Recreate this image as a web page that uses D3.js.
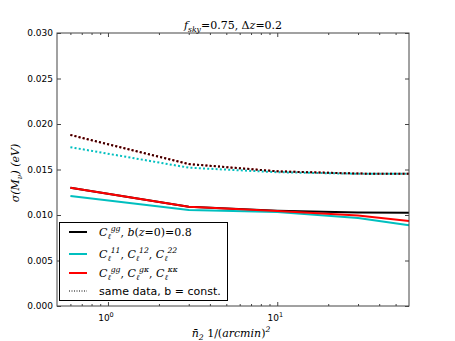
<!DOCTYPE html>
<html>
<head>
<meta charset="utf-8">
<script src="https://cdn.jsdelivr.net/npm/d3@7"></script>
<style>
  body { margin: 0; background: #fff; }
  svg { display: block; }
  .axis path { display: none; }
  .axis line { stroke: #444; }
  .axis text { font-family: "DejaVu Sans", sans-serif; font-size: 9px; fill: #000; }
  .math { font-family: "DejaVu Serif", "Liberation Serif", serif; }
</style>
</head>
<body>
<svg id="chart" width="455" height="341"></svg>
<script>
// number density of the second sample, 1/arcmin^2
let nBar = [0.6, 3, 10, 30, 60]

// sigma(M_nu) in eV
let ggBias = [0.0130, 0.0109, 0.01048, 0.01028, 0.01026]
let tomo = [0.0121, 0.01055, 0.01033, 0.00967, 0.00887]
let ggKappa = [0.0130, 0.0109, 0.01045, 0.00995, 0.00935]
let ggBiasConst = [0.0188, 0.0156, 0.0148, 0.01455, 0.01452]
let tomoConst = [0.01745, 0.0152, 0.0147, 0.01453, 0.01452]
let ggKappaConst = [0.0188, 0.0156, 0.0148, 0.01455, 0.01452]

let yTicks = [0, 0.005, 0.010, 0.015, 0.020, 0.025, 0.030]
let xMajor = [1, 10]
let xMinor = [0.6, 0.7, 0.8, 0.9, 2, 3, 4, 5, 6, 7, 8, 9, 20, 30, 40, 50]

let svg = d3.select('#chart')
let margin = {left: 57, right: 46, top: 33, bottom: 35}
let width = 455 - margin.left - margin.right
let height = 341 - margin.top - margin.bottom

let x = d3.scaleLog().domain([0.5, 60]).range([margin.left, margin.left + width])
let y = d3.scaleLinear().domain([0, 0.030]).range([margin.top + height, margin.top])

// mathtext-ish helper: pieces are [text, kind]
function mathText(sel, pieces, size) {
    let t = sel.append('text').attr('class', 'math').style('font-size', size + 'px')
    let shift = 0
    pieces.forEach(([s, kind]) => {
        let target = kind === 'sub' ? size * 0.3 : kind === 'sup' ? -size * 0.45 : 0
        let ts = t.append('tspan').text(s).attr('dy', target - shift)
        shift = target
        if (kind === 'i') ts.style('font-style', 'italic')
        if (kind === 'sub' || kind === 'sup') ts.style('font-size', (size * 0.7) + 'px').style('font-style', 'italic')
    })
    return t
}

// y axis, ticks inward on both sides
svg.append('g').attr('class', 'axis')
    .attr('transform', `translate(${margin.left},0)`)
    .call(d3.axisLeft(y).tickValues(yTicks).tickFormat(d3.format('.3f')).tickSizeInner(-4).tickPadding(4))
svg.append('g').attr('class', 'axis')
    .attr('transform', `translate(${margin.left + width},0)`)
    .call(d3.axisRight(y).tickValues(yTicks).tickFormat('').tickSizeInner(-4))

// x axis, log, major + minor inward on bottom and top
svg.append('g').attr('class', 'axis')
    .attr('transform', `translate(0,${margin.top + height})`)
    .call(d3.axisBottom(x).tickValues(xMajor).tickFormat('').tickSizeInner(-4).tickPadding(0))
svg.append('g').attr('class', 'axis')
    .attr('transform', `translate(0,${margin.top + height})`)
    .call(d3.axisBottom(x).tickValues(xMinor).tickFormat('').tickSizeInner(-2))
svg.append('g').attr('class', 'axis')
    .attr('transform', `translate(0,${margin.top})`)
    .call(d3.axisTop(x).tickValues(xMajor).tickFormat('').tickSizeInner(-4))
svg.append('g').attr('class', 'axis')
    .attr('transform', `translate(0,${margin.top})`)
    .call(d3.axisTop(x).tickValues(xMinor).tickFormat('').tickSizeInner(-2))

xMajor.forEach(v => {
    let t = svg.append('text')
        .attr('x', x(v) - 2).attr('y', margin.top + height + 15)
        .attr('text-anchor', 'middle')
        .style('font-family', '"DejaVu Sans", sans-serif').style('font-size', '9px')
    t.append('tspan').text('10')
    t.append('tspan').text(Math.round(Math.log10(v))).attr('dy', -4).style('font-size', '6.5px')
})

// lines
let line = vals => d3.line().x((d, i) => x(nBar[i])).y(d => y(d))(vals)
let plotArea = svg.append('g')

let series = [
    {vals: ggBias, color: '#000', dash: null, op: 1},
    {vals: tomo, color: '#00bfbf', dash: null, op: 1},
    {vals: ggKappa, color: '#ff0000', dash: null, op: 1},
    {vals: tomoConst, color: '#00bfbf', dash: '2,2.2', op: 1},
    {vals: ggKappaConst, color: '#ff0000', dash: '2,2.2', op: 1},
    {vals: ggBiasConst, color: '#000', dash: '2,2.2', op: 0.82},
]
series.forEach(s => {
    plotArea.append('path')
        .attr('d', line(s.vals))
        .attr('fill', 'none')
        .attr('stroke', s.color)
        .attr('stroke-width', 2)
        .attr('stroke-opacity', s.op)
        .attr('stroke-dasharray', s.dash)
})

// frame
svg.append('rect')
    .attr('x', margin.left).attr('y', margin.top)
    .attr('width', width).attr('height', height)
    .attr('fill', 'none').attr('stroke', '#444').attr('stroke-width', 1)

// title
mathText(svg, [['f', 'i'], ['sky', 'sub'], ['=0.75,  \u0394', ''], ['z', 'i'], ['=0.2', '']], 11)
    .attr('x', 233).attr('y', 29).attr('text-anchor', 'middle')

// y label
mathText(svg, [['\u03c3(', 'i'], ['M', 'i'], ['\u03bd', 'sub'], [')  (eV)', 'i']], 11)
    .attr('text-anchor', 'middle')
    .attr('transform', 'translate(19,173) rotate(-90)')

// x label
mathText(svg, [['n\u0304', 'i'], ['2', 'sub'], ['  1/(', ''], ['arcmin', 'i'], [')', ''], ['2', 'sup']], 11)
    .attr('x', 231).attr('y', 337).attr('text-anchor', 'middle')

// legend
let legend = svg.append('g')
legend.append('rect')
    .attr('x', 59.5).attr('y', 222.5).attr('width', 168).attr('height', 78)
    .attr('fill', '#fff').attr('stroke', '#000').attr('stroke-width', 1)

let legendItems = [
    {color: '#000', dash: null, w: 2, label: [['C', 'i'], ['\u2113', 'sub'], ['gg', 'sup'], [', ', ''], ['b', 'i'], ['(', ''], ['z', 'i'], ['=0)=0.8', '']]},
    {color: '#00bfbf', dash: null, w: 2, label: [['C', 'i'], ['\u2113', 'sub'], ['11', 'sup'], [', ', ''], ['C', 'i'], ['\u2113', 'sub'], ['12', 'sup'], [', ', ''], ['C', 'i'], ['\u2113', 'sub'], ['22', 'sup']]},
    {color: '#ff0000', dash: null, w: 2, label: [['C', 'i'], ['\u2113', 'sub'], ['gg', 'sup'], [', ', ''], ['C', 'i'], ['\u2113', 'sub'], ['g\u03ba', 'sup'], [', ', ''], ['C', 'i'], ['\u2113', 'sub'], ['\u03ba\u03ba', 'sup']]},
    {color: '#000', dash: '1,1.5', w: 1, label: null},
]
let rowY = [232, 254, 273, 291]
legendItems.forEach((d, i) => {
    legend.append('line')
        .attr('x1', 69).attr('x2', 87).attr('y1', rowY[i]).attr('y2', rowY[i])
        .attr('stroke', d.color).attr('stroke-width', d.w).attr('stroke-dasharray', d.dash)
    if (d.label) {
        mathText(legend, d.label, 11).attr('x', 99).attr('y', rowY[i] + 4)
    } else {
        legend.append('text').attr('x', 99).attr('y', rowY[i] + 4)
            .style('font-family', '"DejaVu Sans", sans-serif').style('font-size', '11px')
            .text('same data, b = const.')
    }
})
</script>
</body>
</html>
